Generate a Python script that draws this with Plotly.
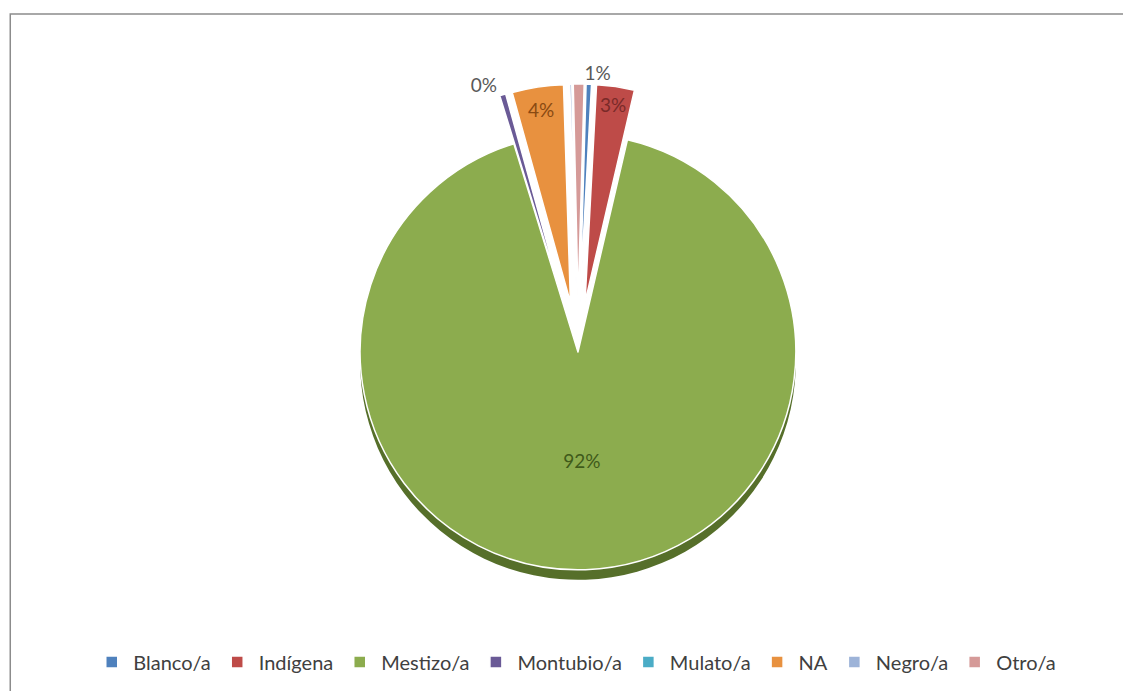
import plotly.graph_objects as go

categories = ["Blanco/a", "Indígena", "Mestizo/a", "Montubio/a", "Mulato/a", "NA", "Negro/a", "Otro/a"]
values = [0.4, 2.8, 91.6, 0.45, 0.0, 3.8, 0.15, 0.8]
pct_labels = ["", "3%", "92%", "0%", "", "4%", "", "1%"]

colors = ["#4F81BD", "#BE4B48", "#8CAC4E", "#6A5A96", "#4BACC6", "#E8913F", "#9DB3D8", "#D59A98"]
side_colors = ["rgba(0,0,0,0)", "rgba(0,0,0,0)", "#566F2A", "rgba(0,0,0,0)",
               "rgba(0,0,0,0)", "rgba(0,0,0,0)", "rgba(0,0,0,0)", "rgba(0,0,0,0)"]
text_colors = ["#595959", "#7A2A28", "#3F5A1A", "#595959", "#595959", "#8A4A12", "#595959", "#595959"]
text_pos = ["none", "inside", "inside", "outside", "none", "inside", "none", "outside"]
pulls = [0.23, 0.23, 0.0, 0.23, 0.23, 0.23, 0.23, 0.23]

dom_x = [0.2670, 0.7409]
dom_y = [0.1144, 0.8900]
depth = 0.0145

common = dict(labels=categories, values=values, sort=False, direction="clockwise",
              rotation=1.6, pull=pulls)

# 3D-like side of the pie (drawn underneath)
side = go.Pie(
    **common,
    domain=dict(x=dom_x, y=[dom_y[0] - depth, dom_y[1] - depth]),
    marker=dict(colors=side_colors, line=dict(width=0)),
    textinfo="none", hoverinfo="skip", showlegend=False,
)

main = go.Pie(
    **common,
    text=pct_labels,
    textinfo="text",
    textposition=text_pos,
    insidetextorientation="horizontal",
    domain=dict(x=dom_x, y=dom_y),
    marker=dict(colors=colors, line=dict(color="white", width=1.5)),
    textfont=dict(family="Lato", size=19, color=text_colors),
    outsidetextfont=dict(family="Lato", size=19, color="#595959"),
    insidetextfont=dict(family="Lato", size=19, color=text_colors),
    hoverinfo="label+percent",
)

fig = go.Figure([side, main])

fig.update_layout(
    width=1131, height=691,
    margin=dict(l=0, r=0, t=0, b=0, autoexpand=False),
    paper_bgcolor="white",
    plot_bgcolor="white",
    showlegend=True,
    legend=dict(
        orientation="h",
        x=0.502, xanchor="center", y=0.0535, yanchor="middle",
        bgcolor="rgba(0,0,0,0)",
        itemwidth=33,
        font=dict(family="Lato", size=20, color="#404040"),
        traceorder="normal",
    ),
    shapes=[dict(type="rect", xref="paper", yref="paper",
                 x0=0.002, x1=1.05, y0=-0.05, y1=0.9913,
                 line=dict(color="#8C8C8C", width=1.5), fillcolor="rgba(0,0,0,0)")],
)

fig.write_html("out.html")
